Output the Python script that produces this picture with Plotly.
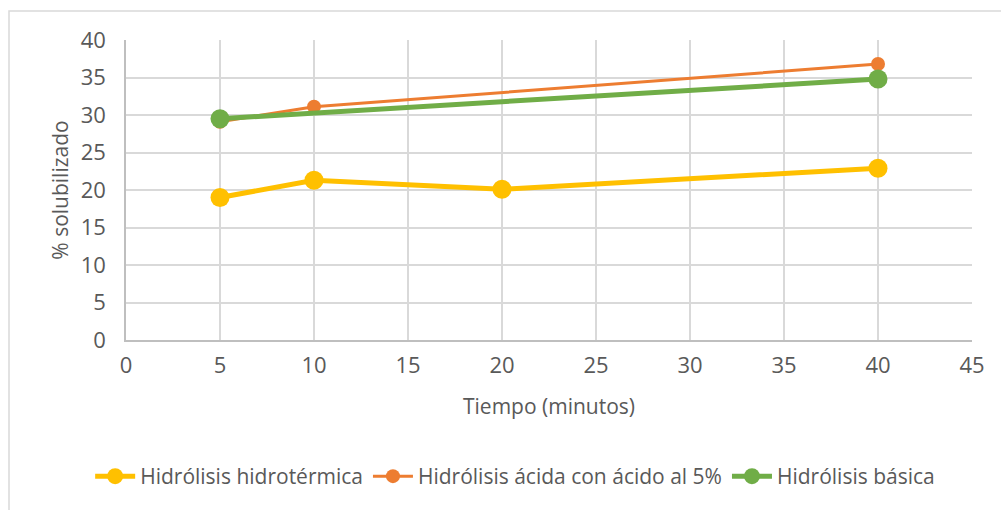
import plotly.graph_objects as go

# Solubilization (%) vs. hydrolysis time (minutes)
t_hidrotermica = [5, 10, 20, 40]
v_hidrotermica = [19.0, 21.3, 20.1, 22.9]

t_acida = [5, 10, 40]
v_acida = [29.1, 31.1, 36.8]

t_basica = [5, 40]
v_basica = [29.5, 34.8]

x_ticks = [0, 5, 10, 15, 20, 25, 30, 35, 40, 45]
y_ticks = [0, 5, 10, 15, 20, 25, 30, 35, 40]

FONT = "Open Sans"
TICK_FS = 22
LABEL_FS = 21
TEXT = "#595959"
GRID = "#D9D9D9"

fig = go.Figure()
fig.add_trace(go.Scatter(
    x=t_hidrotermica, y=v_hidrotermica, mode="lines+markers",
    name="Hidrólisis hidrotérmica",
    line=dict(color="#FFC000", width=5),
    marker=dict(color="#FFC000", size=19),
))
fig.add_trace(go.Scatter(
    x=t_acida, y=v_acida, mode="lines+markers",
    name="Hidrólisis ácida con ácido al 5%",
    line=dict(color="#ED7D31", width=3),
    marker=dict(color="#ED7D31", size=14),
))
fig.add_trace(go.Scatter(
    x=t_basica, y=v_basica, mode="lines+markers",
    name="Hidrólisis básica",
    line=dict(color="#70AD47", width=5),
    marker=dict(color="#70AD47", size=19),
))

W, H = 1001, 510
L, R, T, B = 126, 29, 40, 170
pw, ph = W - L - R, H - T - B

fig.update_layout(
    width=W, height=H,
    margin=dict(l=L, r=R, t=T, b=B),
    paper_bgcolor="white", plot_bgcolor="white",
    font=dict(family=FONT, size=LABEL_FS, color=TEXT),
    showlegend=True,
    legend=dict(
        orientation="h", x=0.46, xanchor="center", y=-0.455, yanchor="middle",
        font=dict(family=FONT, size=LABEL_FS, color=TEXT),
        itemwidth=40, tracegroupgap=0,
    ),
    xaxis=dict(
        range=[0, 45], tickvals=x_ticks, ticktext=[str(v) for v in x_ticks],
        showgrid=True, gridcolor=GRID, gridwidth=1.5,
        showline=True, linecolor="#BFBFBF", linewidth=1.5, mirror=False,
        zeroline=False, ticks="", ticklabelstandoff=5,
        tickfont=dict(family=FONT, size=TICK_FS, color=TEXT),
        title=dict(text="Tiempo (minutos)", font=dict(family=FONT, size=LABEL_FS, color=TEXT), standoff=21),
    ),
    yaxis=dict(
        range=[0, 40], tickvals=y_ticks, ticktext=[str(v) for v in y_ticks],
        showgrid=True, gridcolor=GRID, gridwidth=1.5,
        showline=True, linecolor="#BFBFBF", linewidth=1.5,
        zeroline=False, ticks="", ticklabelstandoff=14,
        tickfont=dict(family=FONT, size=TICK_FS, color=TEXT),
        title=dict(text="% solubilizado", font=dict(family=FONT, size=LABEL_FS, color=TEXT), standoff=6),
    ),
    shapes=[dict(
        type="rect", xref="paper", yref="paper",
        x0=(9 - L) / pw, x1=(W + 20 - L) / pw,
        y0=-(H + 20 - T - ph) / ph, y1=1 + (T - 11) / ph,
        line=dict(color="#D9D9D9", width=1.5), fillcolor="rgba(0,0,0,0)", layer="below",
    )],
)

fig.write_html("out.html")
